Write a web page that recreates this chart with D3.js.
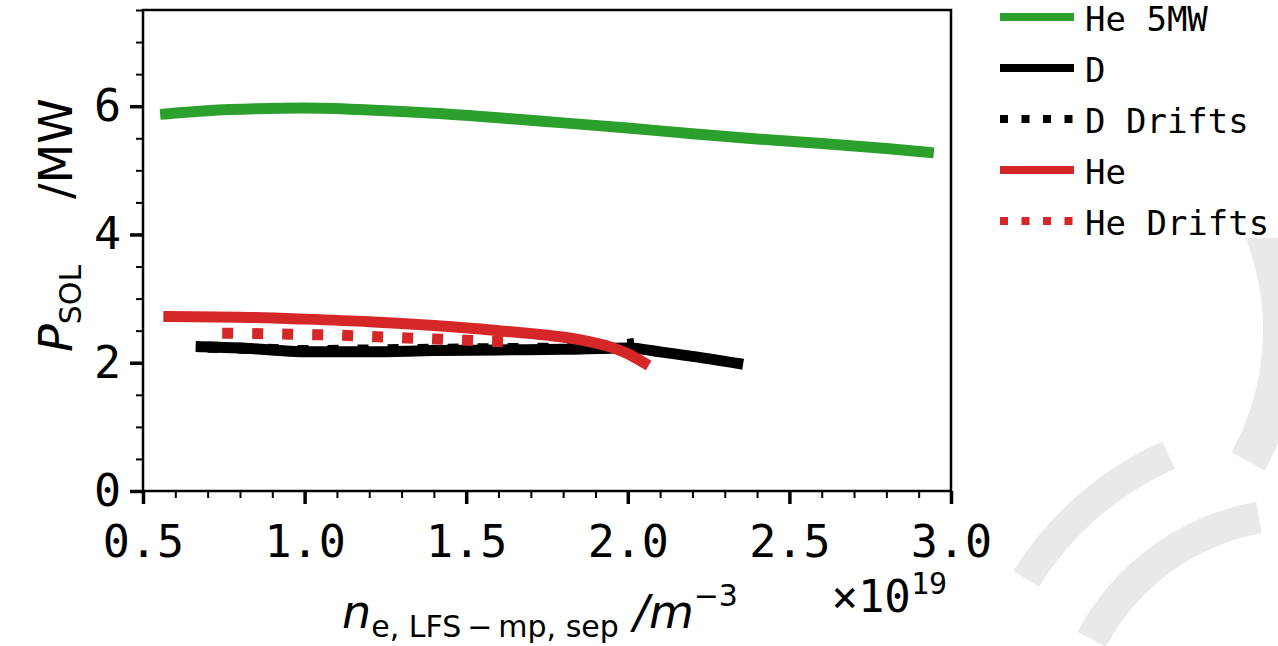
<!DOCTYPE html>
<html>
<head>
<meta charset="utf-8">
<script src="https://cdn.jsdelivr.net/npm/d3@7"></script>
<style>
  html, body { margin: 0; padding: 0; background: #ffffff; }
  svg { display: block; }
</style>
</head>
<body>
<script>
// ---------------- data ----------------
const xTicks = [0.5, 1.0, 1.5, 2.0, 2.5, 3.0];
const yTicks = [0, 2, 4, 6];

const heFiveX = [0.57, 0.7, 0.85, 1.0, 1.2, 1.4, 1.6, 1.8, 2.0, 2.2, 2.4, 2.6, 2.8, 2.93];
const heFiveY = [5.88, 5.93, 5.96, 5.97, 5.94, 5.89, 5.82, 5.74, 5.66, 5.57, 5.49, 5.42, 5.34, 5.28];

const dX = [0.68, 0.8, 0.9, 1.0, 1.2, 1.4, 1.6, 1.8, 2.0, 2.1, 2.2, 2.34];
const dY = [2.25, 2.23, 2.2, 2.17, 2.17, 2.19, 2.2, 2.21, 2.23, 2.17, 2.1, 1.99];

const dDriftX = [0.7, 0.85, 1.0, 1.2, 1.4, 1.6, 1.8, 1.95, 2.02];
const dDriftY = [2.24, 2.22, 2.19, 2.2, 2.21, 2.22, 2.23, 2.26, 2.3];

const heX = [0.58, 0.8, 1.0, 1.2, 1.4, 1.6, 1.75, 1.85, 1.95, 2.0, 2.05];
const heY = [2.72, 2.71, 2.68, 2.64, 2.58, 2.5, 2.43, 2.36, 2.24, 2.14, 2.0];

const heDriftX = [0.745, 0.9, 1.0, 1.1, 1.2, 1.3, 1.4, 1.5, 1.6, 1.66];
const heDriftY = [2.46, 2.45, 2.44, 2.43, 2.41, 2.39, 2.37, 2.35, 2.33, 2.32];

const seriesNames = ["He 5MW", "D", "D Drifts", "He", "He Drifts"];
const seriesColors = ["#2ca02c", "#000000", "#000000", "#d62728", "#d62728"];
const seriesDotted = [false, false, true, false, true];

// ---------------- layout ----------------
const W = 1278, H = 646;
const L = 143, R = 951, T = 10, B = 491;

const svg = d3.select("body").append("svg").attr("width", W).attr("height", H);

// watermark arcs (background logo)
const wm = svg.append("g").attr("fill", "#e9e9e9");
wm.append("path")
  .attr("transform", "translate(1300,750)")
  .attr("d", d3.arc()({innerRadius: 308, outerRadius: 338, startAngle: -58 * Math.PI / 180, endAngle: -24 * Math.PI / 180}));
wm.append("path")
  .attr("transform", "translate(1011,330)")
  .attr("d", d3.arc()({innerRadius: 252, outerRadius: 290, startAngle: 40 * Math.PI / 180, endAngle: 119 * Math.PI / 180}));
wm.append("path")
  .attr("transform", "translate(1300,750)")
  .attr("d", d3.arc()({innerRadius: 220, outerRadius: 252, startAngle: -62 * Math.PI / 180, endAngle: -10 * Math.PI / 180}));

// white figure area over watermark
svg.append("rect").attr("x", 0).attr("y", 0).attr("width", 1008).attr("height", H).attr("fill", "#fff");
svg.append("rect").attr("x", 990).attr("y", 0).attr("width", W - 990).attr("height", 238).attr("fill", "#fff");

const x = d3.scaleLinear().domain([0.5, 3.0]).range([L, R]);
const y = d3.scaleLinear().domain([0, 7.5]).range([B, T]);

const monoFont = "'DejaVu Sans Mono', monospace";
const sansFont = "'DejaVu Sans', sans-serif";

// minor ticks
const xMinor = d3.range(5, 31).map(v => v / 10).filter(v => !xTicks.some(t => Math.abs(t - v) < 1e-9));
const yMinor = d3.range(0, 16).map(v => v / 2).filter(v => !yTicks.some(t => Math.abs(t - v) < 1e-9));

svg.append("g").attr("transform", `translate(0,${B})`)
  .call(d3.axisBottom(x).tickValues(xMinor).tickSize(7).tickFormat(""))
  .call(g => g.select(".domain").remove())
  .call(g => g.selectAll("line").attr("stroke-width", 2));
svg.append("g").attr("transform", `translate(${L},0)`)
  .call(d3.axisLeft(y).tickValues(yMinor).tickSize(7).tickFormat(""))
  .call(g => g.select(".domain").remove())
  .call(g => g.selectAll("line").attr("stroke-width", 2));

// major ticks
const xAxis = svg.append("g").attr("transform", `translate(0,${B})`)
  .call(d3.axisBottom(x).tickValues(xTicks).tickSize(13).tickPadding(21).tickFormat(d3.format(".1f")));
xAxis.select(".domain").remove();
xAxis.selectAll("line").attr("stroke-width", 3.5);
xAxis.selectAll("text").attr("font-family", monoFont).attr("font-size", 45).attr("fill", "#000");

const yAxis = svg.append("g").attr("transform", `translate(${L},0)`)
  .call(d3.axisLeft(y).tickValues(yTicks).tickSize(13).tickPadding(9).tickFormat(d3.format("d")));
yAxis.select(".domain").remove();
yAxis.selectAll("line").attr("stroke-width", 3.5);
yAxis.selectAll("text").attr("font-family", monoFont).attr("font-size", 45).attr("fill", "#000");

// series
const allSeries = [
  [heFiveX, heFiveY], [dX, dY], [dDriftX, dDriftY], [heX, heY], [heDriftX, heDriftY]
];
const line = d3.line().x(d => x(d[0])).y(d => y(d[1])).curve(d3.curveMonotoneX);
const plotG = svg.append("g");
allSeries.forEach((s, i) => {
  const pts = s[0].map((v, k) => [v, s[1][k]]);
  const p = plotG.append("path").datum(pts)
    .attr("d", line)
    .attr("fill", "none")
    .attr("stroke", seriesColors[i])
    .attr("stroke-width", 11)
    .attr("stroke-linejoin", "round");
  if (seriesDotted[i]) p.attr("stroke-dasharray", "11,19").attr("stroke-linecap", "butt");
  else p.attr("stroke-linecap", "square");
});

// frame
svg.append("rect").attr("x", L).attr("y", T).attr("width", R - L).attr("height", B - T)
  .attr("fill", "none").attr("stroke", "#000").attr("stroke-width", 2.5);

// y label
const yl = svg.append("text")
  .attr("transform", `translate(72,352) rotate(-90)`)
  .attr("text-anchor", "start")
  .attr("font-family", sansFont)
  .attr("font-size", 46).attr("fill", "#000");
yl.append("tspan").attr("font-style", "italic").text("P");
yl.append("tspan").attr("font-size", 30).attr("dy", 9).text("SOL");
yl.append("tspan").attr("dy", -9).attr("dx", 66).text("/MW");

// x label
const xl = svg.append("text")
  .attr("x", 540).attr("y", 628)
  .attr("text-anchor", "middle")
  .attr("font-family", sansFont).attr("font-size", 46).attr("fill", "#000");
xl.append("tspan").attr("font-style", "italic").text("n");
xl.append("tspan").attr("font-size", 30).attr("dy", 9).text("e, LFS\u2009\u2212\u2009mp, sep");
xl.append("tspan").attr("font-style", "italic").attr("dy", -9).text(" /m");
xl.append("tspan").attr("font-size", 30).attr("dy", -22).text("\u22123");

// offset text
const ot = svg.append("text")
  .attr("x", 947).attr("y", 612)
  .attr("text-anchor", "end")
  .attr("font-family", monoFont).attr("font-size", 44).attr("fill", "#000");
ot.append("tspan").text("\u00d710");
ot.append("tspan").attr("font-size", 30).attr("dy", -18).text("19");

// legend
const legY0 = 17, legDy = 51;
const lg = svg.append("g");
seriesNames.forEach((name, i) => {
  const yy = legY0 + i * legDy;
  const ln = lg.append("line")
    .attr("x1", 1000).attr("x2", 1074).attr("y1", yy).attr("y2", yy)
    .attr("stroke", seriesColors[i]).attr("stroke-width", 8);
  if (seriesDotted[i]) ln.attr("stroke-dasharray", "8,13.5");
  lg.append("text")
    .attr("x", 1085).attr("y", yy + 14)
    .attr("font-family", monoFont).attr("font-size", 34).attr("fill", "#000")
    .text(name);
});
</script>
</body>
</html>
